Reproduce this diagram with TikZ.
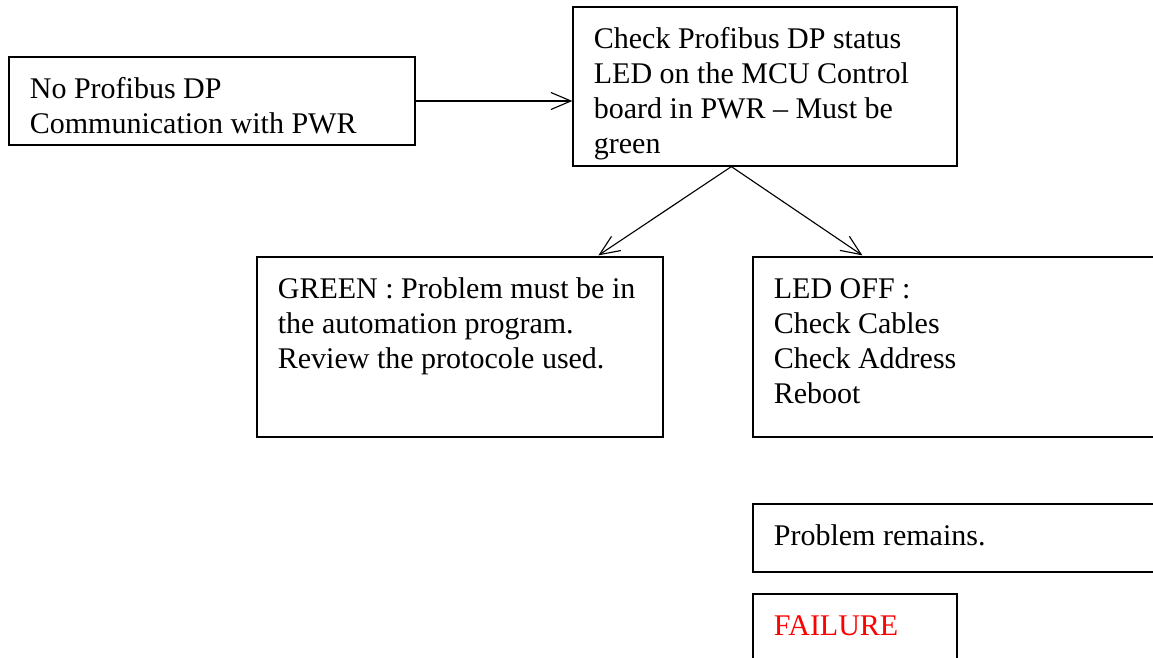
\documentclass[tikz,border=0pt]{standalone}
\usepackage{fontspec}
\setmainfont{Liberation Serif}
\usetikzlibrary{arrows.meta,calc,fit}
% first-line strut: puts the first baseline a fixed distance below the text block's top
\newcommand\firstlinestrut{\rule{0pt}{16.6pt}}
\begin{document}
\begin{tikzpicture}[x=0.4pt,y=-0.4pt,
  box/.style={draw=black, line width=0.5pt, rectangle, inner sep=0pt},
  txt/.style={anchor=north west, inner sep=0pt, align=left,
              font=\fontsize{12pt}{14pt}\selectfont},
  conn/.style={line width=0.45pt, -{Straight Barb[length=8pt,width=6.8pt,line width=0.45pt]}}]
  \fill[white] (0,0) rectangle (1153,658);
  \useasboundingbox (0,0) rectangle (1153,658);
  \clip (0,0) rectangle (1153,658);

  % boxes
  \node[box, fit={(9,57) (415,145)}]     (b1) {};
  \node[box, fit={(573,7) (957,166)}]    (b2) {};
  \node[box, fit={(257,257) (663,437)}]  (b3) {};
  \node[box, fit={(753,257) (1175,437)}] (b4) {};
  \node[box, fit={(753,504) (1175,572)}] (b5) {};
  \node[box, fit={(753,594) (957,680)}]  (b6) {};

  % box texts
  \node[txt] (t1) at ($(b1.north west)+(21,0)$)
    {\firstlinestrut No Profibus DP\\Communication with PWR};
  \node[txt] (t2) at ($(b2.north west)+(21,0)$)
    {\firstlinestrut Check Profibus DP status\\LED on the MCU Control\\board in PWR – Must be\\green};
  \node[txt] (t3) at ($(b3.north west)+(21,0)$)
    {\firstlinestrut GREEN : Problem must be in\\the automation program.\\Review the protocole used.};
  \node[txt] (t4) at ($(b4.north west)+(21,0)$)
    {\firstlinestrut LED OFF :\\Check Cables\\Check Address\\Reboot};
  \node[txt] (t5) at ($(b5.north west)+(21,0)$)
    {\firstlinestrut Problem remains.};
  \node[txt, text=red] (t6) at ($(b6.north west)+(21,0)$)
    {\firstlinestrut FAILURE};

  % connector end points
  \coordinate (apex)  at ($(b2.south west)+(159,0)$);
  \coordinate (tipL)  at ($(b3.north west)+(342,-1)$);
  \coordinate (tipR)  at ($(b4.north west)+(110,-1)$);

  % connectors
  \draw[conn] (b1.east) -- (b1.east -| b2.west);
  \draw[conn] (apex) -- (tipL);
  \draw[conn] (apex) -- (tipR);
\end{tikzpicture}
\end{document}
